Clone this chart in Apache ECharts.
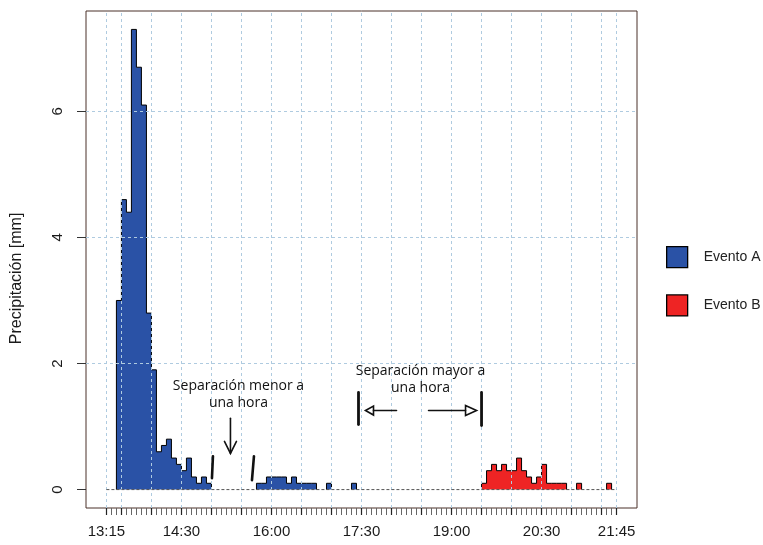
<!DOCTYPE html>
<html><head><meta charset="utf-8">
<script src="https://cdn.jsdelivr.net/npm/echarts@6/dist/echarts.min.js"></script>
<style>html,body{margin:0;padding:0;background:#fff}#c{width:763px;height:545px}</style>
</head><body><div id="c"></div>
<script>
// ---- data (5-minute precipitation, mm) ----
const binMinutes = 5;
const seriesStart = '13:15';
const seriesEnd = '21:45';
const eventAStart = '13:15';
const eventAValues = [0, 0, 3.0, 4.6, 4.4, 7.3, 6.7, 6.1, 2.8, 1.9,
  0.6, 0.7, 0.8, 0.5, 0.4, 0.3, 0.5, 0.2, 0.1, 0.2, 0.1,
  0, 0, 0, 0, 0, 0, 0, 0, 0,
  0.1, 0.1, 0.2, 0.2, 0.2, 0.2, 0.1, 0.2, 0.1, 0.1, 0.1, 0.1,
  0, 0, 0.1, 0, 0, 0, 0, 0.1];
const eventBStart = '19:30';
const eventBValues = [0.1, 0.3, 0.4, 0.3, 0.4, 0.3, 0.3, 0.5, 0.3, 0.2, 0.1, 0.2,
  0.4, 0.1, 0.1, 0.1, 0.1, 0, 0, 0.1, 0, 0, 0, 0, 0, 0.1, 0];
const seriesNames = ['Evento A', 'Evento B'];
const xTickLabels = ['13:15', '14:30', '16:00', '17:30', '19:00', '20:30', '21:45'];
const xGridTimes = ['13:15', '13:30', '14:00', '14:30', '15:00', '15:30', '16:00', '16:30', '17:00',
  '17:30', '18:00', '18:30', '19:00', '19:30', '20:00', '20:30', '21:00', '21:30', '21:45'];
const yTicks = [0, 2, 4, 6];
const yGridValues = [2, 4, 6];
const yTitle = 'Precipitación [mm]';
const annotationTexts = ['Separación menor a\nuna hora', 'Separación mayor a\nuna hora'];

// ---- helpers ----
function toMin(s) { const p = s.split(':'); return (+p[0]) * 60 + (+p[1]); }
function fmt(m) { const h = Math.floor(m / 60), mm = Math.round(m - h * 60); return h + ':' + (mm < 10 ? '0' : '') + mm; }
function stepData(startStr, vals) {
  const s = toMin(startStr); const out = [];
  let i = 0;
  while (i < vals.length) {
    if (vals[i] === 0) { i++; continue; }
    let j = i;
    out.push([s + i * binMinutes, 0]);
    while (j < vals.length && vals[j] !== 0) { out.push([s + j * binMinutes, vals[j]]); j++; }
    out.push([s + j * binMinutes, 0]);
    out.push([s + j * binMinutes, '-']);
    i = j;
  }
  return out;
}
const allMax = Math.max.apply(null, eventAValues.concat(eventBValues));
const x0 = toMin(seriesStart), x1 = toMin(seriesEnd);
const xPad = (x1 - x0) * 0.04, yPad = allMax * 0.04;
const minorTicks = [];
for (let m = x0; m <= x1; m += binMinutes) minorTicks.push(m);

const FONT = 'Liberation Sans';
const chart = echarts.init(document.getElementById('c'), null, { renderer: 'canvas' });
const option = {
  animation: false,
  backgroundColor: '#fff',
  grid: { left: 86, top: 11, width: 551, height: 497, show: true, borderColor: '#4a3028', borderWidth: 1, backgroundColor: '#fff' },
  legend: {
    data: seriesNames, orient: 'vertical', left: 666, top: 246, padding: 0, itemWidth: 21, itemHeight: 21, itemGap: 26,
    icon: 'rect', itemStyle: { borderColor: '#000', borderWidth: 1.3 },
    textStyle: { fontSize: 14, fontFamily: FONT, color: '#222', padding: [0, 0, 0, 11] }
  },
  xAxis: [{
    type: 'value', min: x0 - xPad, max: x1 + xPad, position: 'bottom',
    axisLine: { show: false, onZero: false },
    axisTick: { show: true, customValues: minorTicks, length: 7, lineStyle: { color: '#666', width: 1 } },
    axisLabel: { customValues: xTickLabels.map(toMin), formatter: fmt, fontSize: 15, fontFamily: FONT, color: '#1a1a1a', margin: 16 },
    splitLine: { show: false }
  }, {
    type: 'value', min: x0 - xPad, max: x1 + xPad, position: 'bottom',
    axisLine: { show: false, onZero: false },
    axisTick: { show: true, customValues: xGridTimes.map(toMin), length: 7, lineStyle: { color: '#222', width: 1.2 } },
    axisLabel: { show: false }, splitLine: { show: false }
  }],
  yAxis: {
    type: 'value', min: -yPad, max: allMax + yPad,
    axisLine: { show: false, onZero: false },
    axisTick: { show: true, customValues: yTicks, length: 9, lineStyle: { color: '#333' } },
    axisLabel: { customValues: yTicks, rotate: 90, margin: 21, fontSize: 15, fontFamily: FONT, color: '#1a1a1a' },
    splitLine: { show: false }
  },
  series: [{
    name: seriesNames[0], type: 'line', step: 'end', data: stepData(eventAStart, eventAValues),
    symbol: 'none', connectNulls: false, z: 2,
    lineStyle: { color: '#000', width: 1 }, itemStyle: { color: '#2A52A6' },
    areaStyle: { color: '#2A52A6', opacity: 1 }
  }, {
    name: seriesNames[1], type: 'line', step: 'end', data: stepData(eventBStart, eventBValues),
    symbol: 'none', connectNulls: false, z: 2,
    lineStyle: { color: '#000', width: 1 }, itemStyle: { color: '#EE2424' },
    areaStyle: { color: '#EE2424', opacity: 1 }
  }, {
    name: 'base', type: 'line', data: [[x0, 0], [x1, 0]], symbol: 'none', silent: true, z: 5,
    lineStyle: { color: '#555', width: 1, type: [3, 2] },
    markLine: {
      silent: true, symbol: ['none', 'none'], label: { show: false },
      lineStyle: { color: '#afcbe0', width: 1, type: [3, 3] },
      data: xGridTimes.map(t => ({ xAxis: toMin(t) })).concat(yGridValues.map(v => ({ yAxis: v })))
    }
  }]
};
chart.setOption(option);

// ---- annotations, anchored in data coordinates ----
function P(t, v) { return chart.convertToPixel({ xAxisIndex: 0, yAxisIndex: 0 }, [t, v]); }
const a1 = P(toMin('15:27'), 1.51);
const a2 = P(toMin('18:29'), 1.75);
const arrowDown = P(toMin('15:19'), 1.13);
const gapL = P(toMin('15:00'), 0.53), gapR = P(toMin('15:41'), 0.53);
const barL = P(toMin('17:27'), 1.54), barR = P(toMin('19:30'), 1.54);
const TXT = { fontSize: 14, fontFamily: 'Open Sans', fill: '#111', align: 'center', verticalAlign: 'middle', lineHeight: 17 };
const stroke = (w) => ({ stroke: '#111', lineWidth: w, fill: null, lineCap: 'round' });
const g = [];
// y-axis title, centred like the reference
const titleY = P(x0, 3.35)[1];
g.push({ type: 'text', x: 17, y: titleY, rotation: Math.PI / 2,
  style: { text: yTitle, fontSize: 16, fontFamily: FONT, fill: '#1a1a1a', align: 'center', verticalAlign: 'middle' } });
g.push({ type: 'text', x: a1[0], y: a1[1], style: Object.assign({ text: annotationTexts[0] }, TXT), z: 20 });
g.push({ type: 'text', x: a2[0], y: a2[1], style: Object.assign({ text: annotationTexts[1] }, TXT), z: 20 });
// down arrow
g.push({ type: 'polyline', shape: { points: [[arrowDown[0], arrowDown[1]], [arrowDown[0], arrowDown[1] + 35]] }, style: stroke(1.6), z: 20 });
g.push({ type: 'polyline', shape: { points: [[arrowDown[0] - 6, arrowDown[1] + 23], [arrowDown[0], arrowDown[1] + 35], [arrowDown[0] + 6, arrowDown[1] + 23]] }, style: stroke(1.6), z: 20 });
// small gap marks
g.push({ type: 'polyline', shape: { points: [[gapL[0] + 1.5, gapL[1]], [gapL[0] + 0.5, gapL[1] + 22]] }, style: stroke(2.6), z: 20 });
g.push({ type: 'polyline', shape: { points: [[gapR[0] + 1.5, gapR[1]], [gapR[0] - 0.5, gapR[1] + 24]] }, style: stroke(2.6), z: 20 });
// big gap bars
g.push({ type: 'polyline', shape: { points: [[barL[0], barL[1]], [barL[0], barL[1] + 32]] }, style: stroke(2.8), z: 20 });
g.push({ type: 'polyline', shape: { points: [[barR[0], barR[1]], [barR[0], barR[1] + 33]] }, style: stroke(2.8), z: 20 });
// left arrow
const ly = barL[1] + 18;
g.push({ type: 'polygon', shape: { points: [[barL[0] + 7, ly], [barL[0] + 15, ly - 4.5], [barL[0] + 15, ly + 4.5]] }, style: stroke(1.6), z: 20 });
g.push({ type: 'polyline', shape: { points: [[barL[0] + 15, ly], [barL[0] + 38, ly]] }, style: stroke(1.6), z: 20 });
// right arrow
const ry = barR[1] + 18;
g.push({ type: 'polyline', shape: { points: [[barR[0] - 53, ry], [barR[0] - 16, ry]] }, style: stroke(1.6), z: 20 });
g.push({ type: 'polygon', shape: { points: [[barR[0] - 5, ry], [barR[0] - 16, ry - 5], [barR[0] - 16, ry + 5]] }, style: stroke(1.6), z: 20 });
chart.setOption({ graphic: g });
</script></body></html>
